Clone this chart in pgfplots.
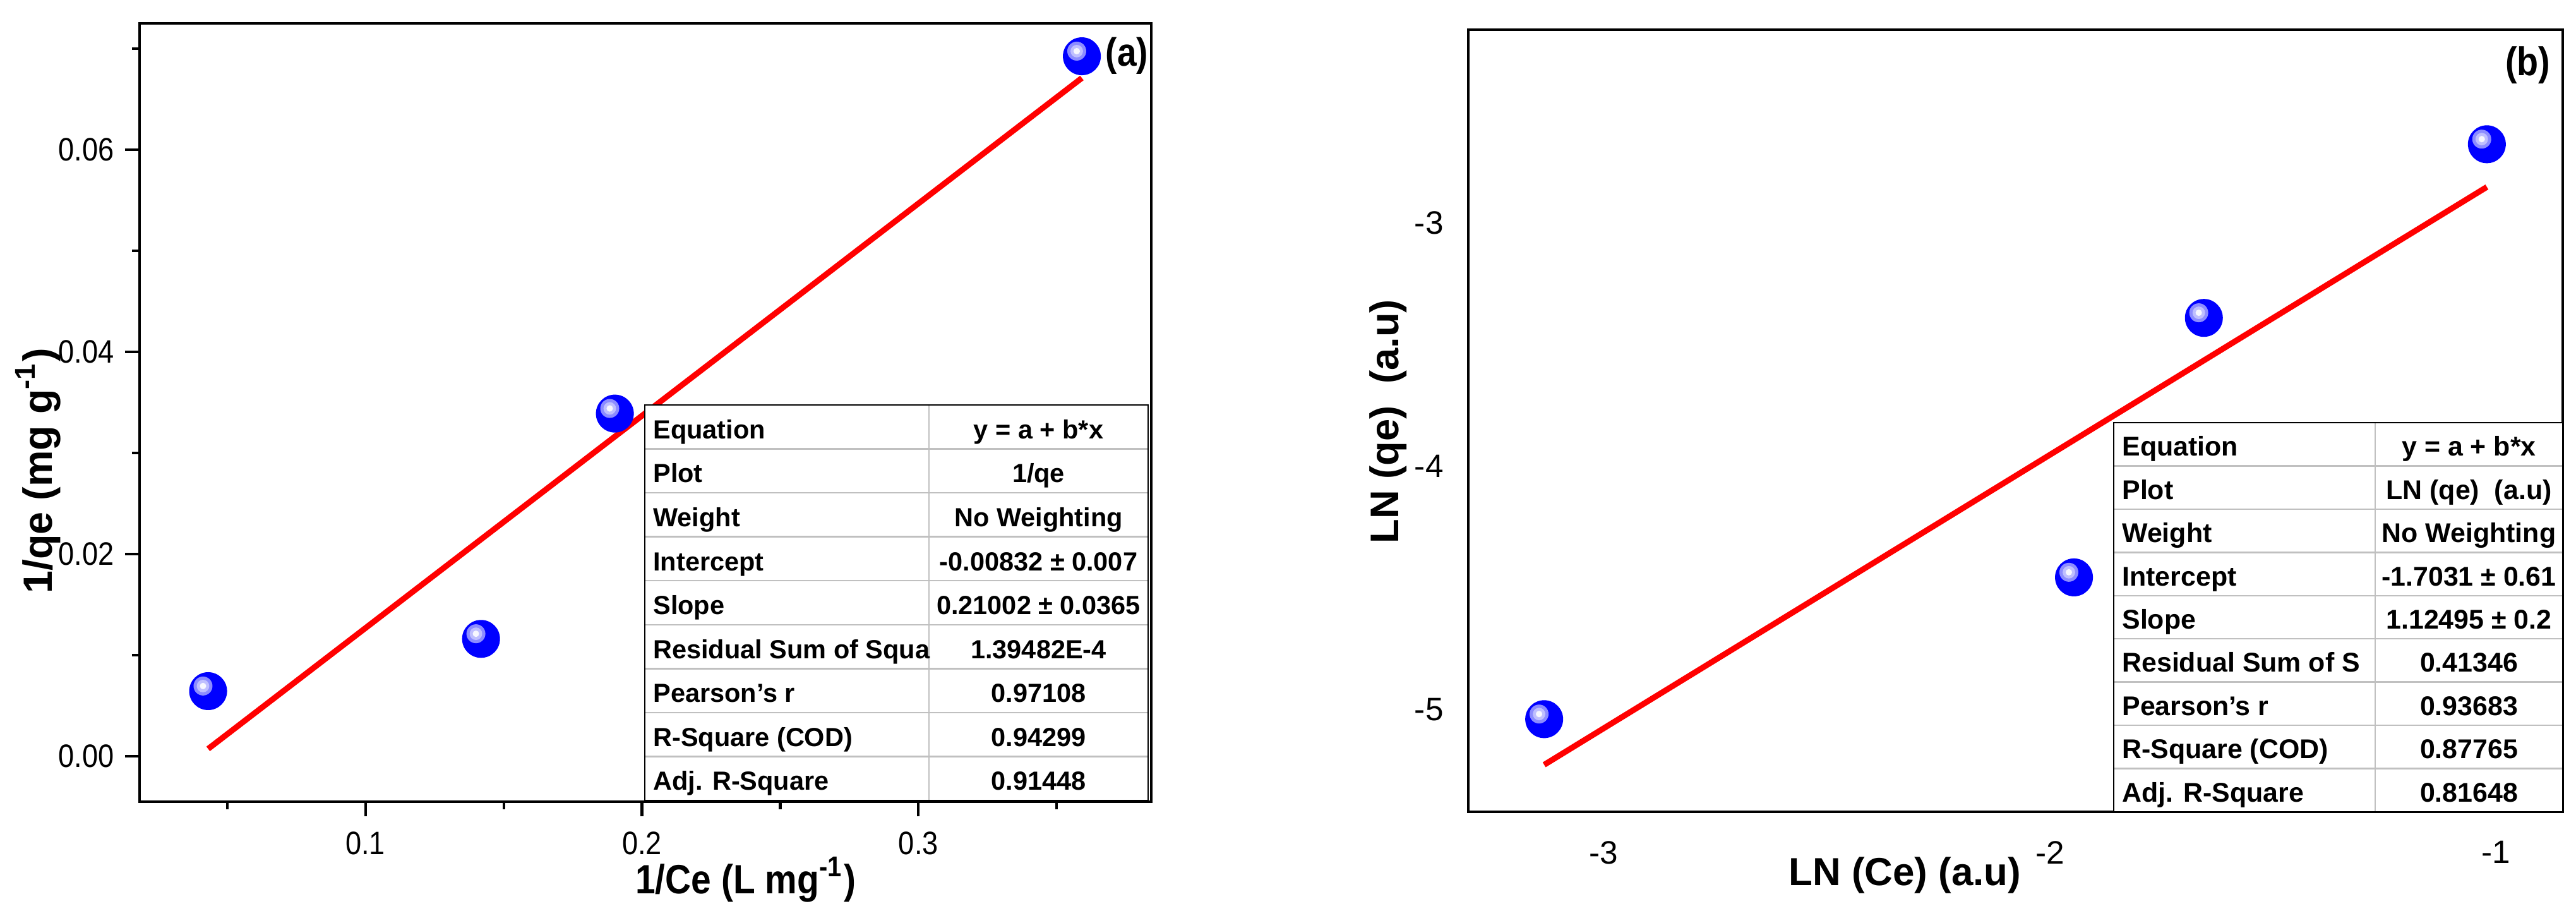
\documentclass[border=0pt]{standalone}
\usepackage{pgfplots}
\pgfplotsset{compat=1.18}
\usepackage{fontspec}
\setmainfont{Liberation Sans}
\newfontfamily\narrowfont{Liberation Sans}[FakeStretch=0.88]

\definecolor{rulegray}{RGB}{192,192,192}
\newcommand{\fs}[1]{\fontsize{#1}{#1}\selectfont}

% flat-shaded blue sphere, highlight up left
\pgfdeclareplotmark{sphere}{%
  \pgfpathcircle{\pgfpointorigin}{\pgfplotmarksize}%
  \pgfsetfillcolor{blue}\pgfusepath{fill}%
  \pgfpathcircle{\pgfpoint{-0.27\pgfplotmarksize}{0.27\pgfplotmarksize}}{0.5\pgfplotmarksize}%
  \pgfsetfillcolor{blue!45!white}\pgfusepath{fill}%
  \pgfpathcircle{\pgfpoint{-0.27\pgfplotmarksize}{0.27\pgfplotmarksize}}{0.33\pgfplotmarksize}%
  \pgfsetfillcolor{blue!25!white}\pgfusepath{fill}%
  \pgfpathcircle{\pgfpoint{-0.27\pgfplotmarksize}{0.27\pgfplotmarksize}}{0.17\pgfplotmarksize}%
  \pgfsetfillcolor{blue!3!white}\pgfusepath{fill}%
}

% fit table: set frame, then one \trow per line
\newcommand{\tabframe}[6]{% x0, xm, x1, ytop, row height, font size
  \def\tx{#1}\def\tm{#2}\def\tr{#3}\def\ty{#4}\def\rh{#5}\def\tfs{#6}%
  \fill[white] (\tx,\ty) rectangle (\tr,{\ty-9*\rh});
  \foreach \i in {1,...,8}
    \draw[rulegray, line width=0.35pt] (\tx,{\ty-\i*\rh}) -- (\tr,{\ty-\i*\rh});
  \draw[rulegray, line width=0.35pt] (\tm,\ty) -- (\tm,{\ty-9*\rh});
  \draw[black, line width=0.35pt] (\tx,\ty) rectangle (\tr,{\ty-9*\rh});
}
\newcommand{\trow}[3]{%
  \node[anchor=mid west, inner sep=0pt, font=\bfseries\fs{\tfs}] at ({\tx+0.06},{\ty-(#1+0.5)*\rh}) {#2};
  \node[anchor=mid, inner sep=0pt, font=\bfseries\fs{\tfs}] at ({(\tm+\tr)/2},{\ty-(#1+0.5)*\rh}) {#3};
}

\begin{document}
\begin{tikzpicture}
\path[use as bounding box] (0,0) rectangle (20.395,7.205);

% ---------- (a) Langmuir ----------
\begin{axis}[
  at={(1.105cm,0.86cm)}, anchor=south west,
  scale only axis, width=8.01cm, height=6.16cm,
  xmin=0.0183, xmax=0.3842, ymin=-0.0045, ymax=0.0725,
  xtick={0.1,0.2,0.3}, minor xtick={0.05,0.15,0.25,0.35},
  ytick={0,0.02,0.04,0.06}, minor ytick={0.01,0.03,0.05,0.07},
  xtick pos=left, ytick pos=left, tick align=outside,
  major tick length=0.115cm, minor tick length=0.06cm,
  every tick/.style={black, line width=0.6pt},
  axis line style={line width=0.6pt},
  scaled ticks=false,
  /pgf/number format/assume math mode=true,
  xticklabel style={/pgf/number format/fixed, /pgf/number format/precision=1,
    font=\narrowfont\fs{7.3}, anchor=north, inner sep=0pt, yshift=-0.115cm},
  yticklabel style={/pgf/number format/fixed, /pgf/number format/fixed zerofill,
    /pgf/number format/precision=2,
    font=\narrowfont\fs{7.3}, anchor=east, inner sep=0pt, xshift=-0.08cm},
  every axis x label/.style={at={(axis description cs:0.599,-0.1)}, anchor=center, inner sep=0pt},
  every axis y label/.style={at={(axis description cs:-0.1005,0.425)}, rotate=90, anchor=center},
  xlabel={\narrowfont\bfseries\fs{9.2}1/Ce (L mg\textsuperscript{-1})},
  ylabel={\bfseries\fs{9.2}1/qe (mg g\textsuperscript{-1})},
]
\addplot[only marks, mark=sphere, mark size=4.27pt]
  coordinates {(0.0431,0.00644)(0.1418,0.01161)(0.1902,0.0339)(0.3591,0.06925)};
\addplot[red, line width=1.3pt, no marks]
  coordinates {(0.0431,0.00073)(0.3591,0.06710)};
\node[font=\narrowfont\bfseries\fs{8.9}] at (axis description cs:0.976,0.9586) {(a)};
\end{axis}

% ---------- (b) Freundlich ----------
\begin{axis}[
  at={(11.625cm,0.78cm)}, anchor=south west,
  scale only axis, width=8.665cm, height=6.19cm,
  xmin=-3.303, xmax=-0.851, ymin=-5.421, ymax=-2.205,
  xtick={-3,-2,-1}, xticklabels={-3,-2,-1},
  ytick={-5,-4,-3}, yticklabels={-5,-4,-3},
  major tick length=0pt,
  axis line style={line width=0.6pt},
  xticklabel style={font=\fs{7.3}, anchor=north, inner sep=0pt, yshift=-0.225cm},
  yticklabel style={font=\fs{7.3}, anchor=east, inner sep=0pt, xshift=-0.19cm},
  every axis x label/.style={at={(axis description cs:0.399,-0.081)}, anchor=center},
  every axis y label/.style={at={(axis description cs:-0.0733,0.499)}, rotate=90, anchor=center},
  xlabel={\bfseries\fs{8.8}LN (Ce) (a.u)},
  ylabel={\bfseries\fs{9}LN (qe)~~(a.u)},
]
\addplot[only marks, mark=sphere, mark size=4.27pt]
  coordinates {(-3.133,-5.040)(-1.946,-4.457)(-1.655,-3.390)(-1.021,-2.676)};
\addplot[red, line width=1.3pt, no marks]
  coordinates {(-3.133,-5.2276)(-1.021,-2.8517)};
\node[font=\narrowfont\bfseries\fs{9}] at (axis description cs:0.968,0.955) {(b)};
\end{axis}

% ---------- fit tables ----------
\tabframe{5.105}{7.355}{9.09}{4.0}{0.3478}{5.9}
\trow{0}{Equation}{y = a + b*x}
\trow{1}{Plot}{1/qe}
\trow{2}{Weight}{No Weighting}
\trow{3}{Intercept}{-0.00832 ± 0.007}
\trow{4}{Slope}{0.21002 ± 0.0365}
\trow{5}{Residual Sum of Squa}{1.39482E-4}
\trow{6}{Pearson's r}{0.97108}
\trow{7}{R-Square (COD)}{0.94299}
\trow{8}{Adj. R-Square}{0.91448}

\tabframe{16.735}{18.805}{20.29}{3.86}{0.3422}{6.1}
\trow{0}{Equation}{y = a + b*x}
\trow{1}{Plot}{LN (qe)~~(a.u)}
\trow{2}{Weight}{No Weighting}
\trow{3}{Intercept}{-1.7031 ± 0.61}
\trow{4}{Slope}{1.12495 ± 0.2}
\trow{5}{Residual Sum of S}{0.41346}
\trow{6}{Pearson's r}{0.93683}
\trow{7}{R-Square (COD)}{0.87765}
\trow{8}{Adj. R-Square}{0.81648}
\end{tikzpicture}
\end{document}
